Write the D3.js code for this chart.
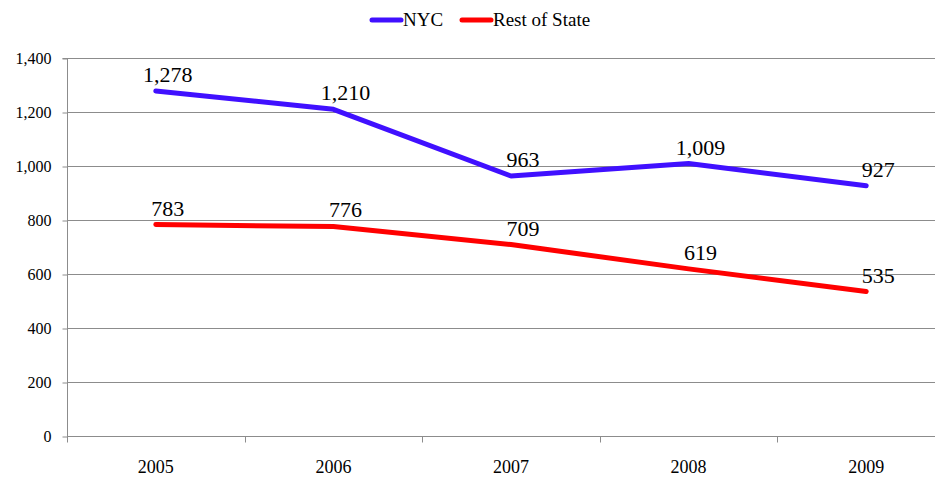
<!DOCTYPE html>
<html>
<head>
<meta charset="utf-8">
<script src="https://cdn.jsdelivr.net/npm/d3@7"></script>
<style>
  html, body { margin: 0; padding: 0; background: #fff; }
  svg { display: block; }
  svg text { font-family: "Liberation Serif", "Times New Roman", serif !important; }
</style>
</head>
<body>
<svg id="chart" width="935" height="478"></svg>
<script>
const years = ["2005", "2006", "2007", "2008", "2009"];
const nycValues = [1278, 1210, 963, 1009, 927];
const restValues = [783, 776, 709, 619, 535];
const yTicks = [0, 200, 400, 600, 800, 1000, 1200, 1400];
const seriesNames = ["NYC", "Rest of State"];
const seriesColors = ["#4010FF", "#FF0000"];

(function () {
const svg = d3.select("#chart");
const pLeft = 67, pRight = 955, pTop = 58, pBottom = 436;

const x = d3.scaleBand().domain(years).range([pLeft, pRight]);
const y = d3.scaleLinear().domain([0, 1400]).range([pBottom, pTop]);

// gridlines
svg.append("g").selectAll("line").data(yTicks.filter(d => d > 0)).join("line")
  .attr("x1", pLeft).attr("x2", 935)
  .attr("y1", d => y(d) + 0.5).attr("y2", d => y(d) + 0.5)
  .attr("stroke", "#8c8c8c").attr("stroke-width", 1);

// y axis
const yAxis = d3.axisLeft(y).tickValues(yTicks).tickSize(5).tickPadding(11)
  .tickFormat(d3.format(","));
const gy = svg.append("g").attr("transform", `translate(${pLeft + 0.5},0.5)`).call(yAxis);
gy.attr("font-family", null);
gy.select(".domain").attr("stroke", "#8c8c8c").attr("d", `M-5,${pTop}H0V${pBottom}`);
gy.selectAll(".tick line").attr("stroke", "#8c8c8c");
gy.selectAll(".tick text").attr("font-size", 16).attr("fill", "#000");

// x axis
const gx = svg.append("g").attr("transform", `translate(0,${pBottom + 0.5})`);
gx.append("line").attr("x1", pLeft).attr("x2", 935).attr("y1", 0).attr("y2", 0)
  .attr("stroke", "#8c8c8c");
gx.selectAll("line.tk").data(years).join("line").attr("class", "tk")
  .attr("x1", d => Math.round(x(d)) + 0.5).attr("x2", d => Math.round(x(d)) + 0.5)
  .attr("y1", 0).attr("y2", 6).attr("stroke", "#8c8c8c");
gx.selectAll("text").data(years).join("text")
  .attr("x", d => x(d) + x.bandwidth() / 2).attr("y", 36)
  .attr("text-anchor", "middle").attr("font-size", 18).attr("fill", "#000")
  .text(d => d);

// lines
const series = [nycValues, restValues];
const line = d3.line().x((d, i) => x(years[i]) + x.bandwidth() / 2).y(d => y(d));
series.forEach((vals, si) => {
  svg.append("path").datum(vals).attr("d", line)
    .attr("fill", "none").attr("stroke", seriesColors[si])
    .attr("stroke-width", 5).attr("stroke-linecap", "round").attr("stroke-linejoin", "round");
  svg.append("g").selectAll("text").data(vals).join("text")
    .attr("x", (d, i) => x(years[i]) + x.bandwidth() / 2 + 12)
    .attr("y", d => y(d) - 9)
    .attr("text-anchor", "middle").attr("font-size", 22).attr("fill", "#000")
    .text(d => d3.format(",")(d));
});

// legend
const legendX = [370, 460];
seriesNames.forEach((name, i) => {
  const g = svg.append("g").attr("transform", `translate(${legendX[i]},20)`);
  g.append("line").attr("x1", 2).attr("x2", 31).attr("y1", 0).attr("y2", 0)
    .attr("stroke", seriesColors[i]).attr("stroke-width", 5).attr("stroke-linecap", "round");
  g.append("text").attr("x", 33).attr("y", 6).attr("font-size", 19).attr("fill", "#000")
    .text(name);
});
})();
</script>
</body>
</html>
